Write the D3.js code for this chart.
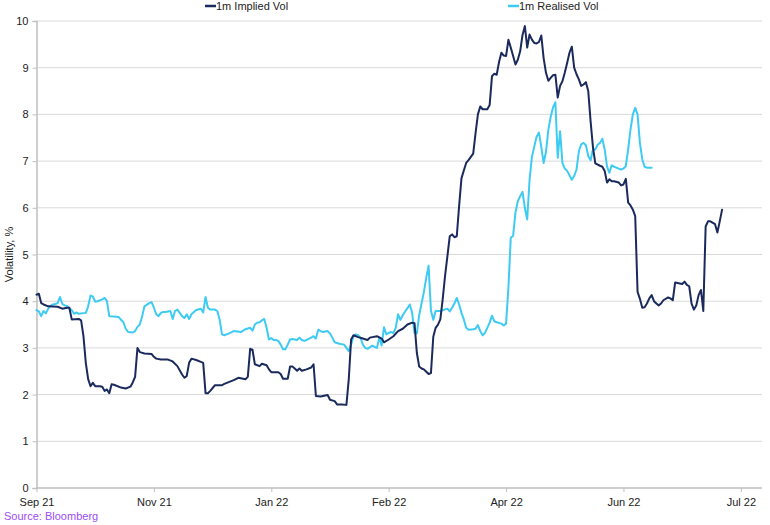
<!DOCTYPE html>
<html>
<head>
<meta charset="utf-8">
<script src="https://cdn.jsdelivr.net/npm/d3@7"></script>
<style>
  body { margin: 0; background: #fff; }
  text { font-family: "Liberation Sans", Arial, sans-serif; }
</style>
</head>
<body>
<div id="chart"></div>
<script>
// days are counted from the first date on the axis (Sep 28 2021)
const startDate = new Date(2021, 8, 28);
const tickStepDays = 50;
const tickCount = 7;
const yTicks = [0, 1, 2, 3, 4, 5, 6, 7, 8, 9, 10];

const impliedDay = [0, 1, 2, 3, 5, 9, 11, 13, 14, 15, 18, 19, 20, 21, 22, 23, 24, 25, 27, 28, 29, 30, 31, 32, 33, 36, 38, 40, 41, 42, 43, 44, 46, 49, 50, 51, 53, 56, 58, 60, 62, 63, 64, 65, 66, 68, 70, 71, 72, 73, 74, 76, 79, 80, 84, 86, 89, 90, 91, 92, 93, 95, 96, 98, 99, 100, 103, 104, 105, 107, 108, 109, 110, 111, 112, 113, 115, 117, 118, 119, 121, 124, 125, 127, 128, 130, 132, 133, 134, 135, 137, 139, 141, 142, 145, 147, 148, 150, 152, 154, 156, 158, 160, 161, 162, 163, 164, 165, 166, 167, 168, 169, 170, 171, 172, 173, 174, 175, 176, 177, 178, 179, 180, 181, 182, 183, 184, 185, 186, 187, 188, 189, 190, 192, 193, 194, 195, 196, 197, 198, 199, 200, 201, 202, 203, 204, 205, 206, 207, 208, 209, 210, 211, 212, 213, 214, 215, 216, 217, 218, 219, 220, 221, 222, 223, 224, 225, 226, 227, 228, 229, 230, 231, 232, 233, 234, 235, 236, 237, 238, 240, 241, 242, 243, 244, 245, 246, 248, 249, 250, 251, 252, 253, 254, 255, 256, 257, 258, 259, 260, 261, 262, 263, 264, 265, 266, 267, 269, 270, 271, 272, 275, 276, 277, 278, 279, 280, 281, 282, 283, 284, 285, 286, 287, 289, 290, 291, 292];
const impliedVol = [4.14, 4.16, 3.96, 3.93, 3.89, 3.88, 3.84, 3.86, 3.86, 3.61, 3.62, 3.59, 3.25, 2.68, 2.33, 2.18, 2.25, 2.18, 2.18, 2.17, 2.08, 2.11, 2.03, 2.22, 2.21, 2.15, 2.13, 2.17, 2.26, 2.38, 3.0, 2.91, 2.88, 2.87, 2.81, 2.77, 2.75, 2.75, 2.71, 2.61, 2.43, 2.36, 2.40, 2.68, 2.77, 2.74, 2.70, 2.68, 2.03, 2.03, 2.08, 2.2, 2.2, 2.23, 2.31, 2.36, 2.33, 2.38, 2.98, 2.96, 2.65, 2.61, 2.66, 2.63, 2.54, 2.48, 2.48, 2.44, 2.34, 2.34, 2.6, 2.6, 2.56, 2.51, 2.56, 2.51, 2.54, 2.58, 2.65, 1.97, 1.96, 1.99, 1.89, 1.86, 1.79, 1.79, 1.78, 2.33, 3.18, 3.27, 3.23, 3.2, 3.17, 3.22, 3.25, 3.2, 3.12, 3.18, 3.25, 3.36, 3.41, 3.5, 3.54, 3.53, 2.89, 2.6, 2.56, 2.54, 2.49, 2.44, 2.46, 3.24, 3.43, 3.5, 3.61, 4.04, 4.54, 4.96, 5.39, 5.43, 5.37, 5.39, 6.04, 6.63, 6.8, 6.96, 7.02, 7.09, 7.16, 7.6, 8.0, 8.17, 8.11, 8.11, 8.2, 8.82, 8.87, 8.85, 9.12, 9.32, 9.26, 9.25, 9.6, 9.43, 9.25, 9.07, 9.17, 9.35, 9.7, 9.89, 9.43, 9.71, 9.6, 9.53, 9.52, 9.55, 9.69, 9.2, 8.89, 8.72, 8.78, 8.84, 8.85, 8.36, 8.61, 8.71, 8.89, 9.1, 9.32, 9.45, 9.0, 8.86, 8.75, 8.61, 8.64, 8.69, 8.5, 7.85, 7.3, 6.95, 6.9, 6.88, 6.79, 6.54, 6.61, 6.57, 6.57, 6.54, 6.48, 6.5, 6.62, 6.11, 6.05, 5.96, 5.82, 4.2, 4.05, 3.86, 3.87, 3.95, 4.06, 4.13, 4.0, 3.95, 3.91, 3.95, 4.02, 4.08, 4.06, 4.02, 4.4, 4.37, 4.42, 4.35, 4.32, 3.95, 3.82, 3.91, 4.13, 4.24, 3.79, 5.6, 5.71, 5.71, 5.65, 5.47, 5.71, 5.96];

const realisedDay = [0, 1, 2, 3, 4, 5, 6, 7, 8, 9, 10, 11, 12, 13, 14, 15, 16, 17, 18, 21, 22, 23, 24, 25, 26, 28, 29, 30, 31, 33, 35, 37, 38, 39, 41, 42, 43, 44, 45, 46, 48, 49, 50, 51, 52, 53, 54, 55, 57, 58, 59, 60, 61, 62, 63, 64, 65, 66, 68, 70, 71, 72, 73, 74, 76, 77, 78, 79, 80, 82, 84, 87, 89, 91, 92, 93, 94, 95, 96, 97, 98, 99, 100, 101, 102, 103, 104, 105, 106, 107, 108, 109, 111, 112, 113, 114, 115, 117, 118, 119, 120, 121, 122, 124, 125, 126, 127, 129, 131, 132, 133, 134, 135, 136, 137, 138, 139, 140, 141, 143, 144, 145, 146, 147, 148, 149, 150, 151, 152, 153, 154, 155, 156, 157, 158, 159, 160, 161, 162, 163, 164, 165, 166, 167, 168, 169, 170, 172, 175, 176, 177, 178, 179, 180, 181, 182, 183, 184, 186, 187, 188, 189, 190, 191, 192, 193, 194, 195, 196, 198, 199, 200, 201, 202, 203, 204, 205, 206, 207, 208, 209, 210, 211, 212, 213, 214, 215, 216, 217, 218, 219, 220, 221, 222, 223, 224, 225, 226, 228, 229, 230, 231, 232, 233, 234, 235, 236, 237, 238, 239, 240, 241, 242, 243, 244, 245, 246, 248, 249, 250, 251, 252, 253, 254, 255, 256, 257, 258, 259, 260, 262];
const realisedVol = [3.81, 3.78, 3.68, 3.79, 3.74, 3.84, 3.9, 3.93, 3.94, 3.96, 4.09, 3.94, 3.91, 3.9, 3.84, 3.81, 3.73, 3.76, 3.73, 3.75, 3.89, 4.12, 4.1, 3.99, 4.0, 4.04, 4.07, 4.0, 3.68, 3.67, 3.66, 3.55, 3.41, 3.34, 3.33, 3.36, 3.45, 3.5, 3.68, 3.89, 3.96, 3.98, 3.86, 3.72, 3.68, 3.75, 3.77, 3.77, 3.79, 3.62, 3.79, 3.82, 3.75, 3.68, 3.64, 3.72, 3.62, 3.72, 3.81, 3.84, 3.76, 4.09, 3.86, 3.82, 3.82, 3.79, 3.61, 3.29, 3.27, 3.31, 3.36, 3.34, 3.4, 3.43, 3.37, 3.5, 3.54, 3.55, 3.59, 3.62, 3.43, 3.18, 3.21, 3.17, 3.17, 3.15, 3.07, 2.97, 2.97, 3.07, 3.18, 3.19, 3.17, 3.22, 3.17, 3.15, 3.17, 3.22, 3.25, 3.2, 3.39, 3.36, 3.34, 3.36, 3.31, 3.22, 3.12, 3.09, 3.07, 3.0, 2.93, 3.07, 3.25, 3.29, 3.27, 3.22, 3.07, 3.0, 2.98, 3.05, 3.02, 3.0, 3.22, 3.05, 3.44, 3.29, 3.32, 3.34, 3.32, 3.43, 3.72, 3.6, 3.7, 3.78, 3.85, 3.93, 3.75, 3.32, 3.31, 3.7, 3.95, 4.2, 4.5, 4.76, 3.8, 3.6, 3.79, 3.79, 3.84, 3.78, 3.86, 3.95, 4.07, 3.93, 3.75, 3.61, 3.43, 3.39, 3.4, 3.41, 3.49, 3.36, 3.27, 3.32, 3.43, 3.54, 3.69, 3.57, 3.55, 3.52, 3.48, 3.52, 4.3, 5.36, 5.4, 5.9, 6.14, 6.25, 6.34, 6.0, 5.75, 6.6, 7.09, 7.31, 7.52, 7.61, 7.3, 6.96, 7.2, 7.67, 7.95, 8.15, 8.26, 7.07, 7.64, 6.96, 6.84, 6.79, 6.6, 6.68, 6.82, 7.21, 7.36, 7.39, 7.34, 7.11, 7.02, 7.25, 7.25, 7.35, 7.39, 7.48, 7.25, 6.88, 6.75, 6.91, 6.88, 6.84, 6.82, 6.84, 6.89, 7.25, 7.68, 8.0, 8.14, 8.0, 7.39, 7.04, 6.88, 6.86, 6.86];

const seriesNames = ['1m Implied Vol', '1m Realised Vol'];
const seriesColors = ['#1b2a5c', '#3ecbf3'];

const W = 770, H = 525;
const margin = {top: 21, right: 8, bottom: 37, left: 36.5};

const dayToDate = (d) => d3.timeDay.offset(startDate, d);

const svg = d3.select('#chart')
  .append('svg')
  .attr('width', W)
  .attr('height', H);

const x = d3.scaleTime()
  .domain([startDate, dayToDate(309)])
  .range([margin.left, W - margin.right]);

const y = d3.scaleLinear()
  .domain([0, 10])
  .range([H - margin.bottom, margin.top]);

// gridlines
svg.append('g')
  .selectAll('line')
  .data(yTicks.filter((t) => t > 0))
  .join('line')
  .attr('x1', margin.left)
  .attr('x2', W - margin.right)
  .attr('y1', (d) => y(d))
  .attr('y2', (d) => y(d))
  .attr('stroke', '#d9d9d9')
  .attr('stroke-width', 1);

// y axis
const yAxis = svg.append('g')
  .attr('transform', `translate(${margin.left},0)`)
  .call(d3.axisLeft(y).tickValues(yTicks).tickSize(4).tickPadding(4).tickFormat(d3.format('d')));
yAxis.select('.domain').attr('stroke', '#bfbfbf').attr('stroke-width', 1.5);
yAxis.selectAll('.tick line').attr('stroke', '#bfbfbf');
yAxis.selectAll('.tick text')
  .attr('font-size', 11)
  .attr('fill', '#222');

// x axis
const xTicks = d3.range(tickCount).map((k) => dayToDate(k * tickStepDays));
const xAxis = svg.append('g')
  .attr('transform', `translate(0,${y(0)})`)
  .call(d3.axisBottom(x).tickValues(xTicks).tickSize(4).tickPadding(6).tickFormat(d3.timeFormat('%b %y')));
xAxis.select('.domain').attr('stroke', '#bfbfbf').attr('stroke-width', 1.5).attr('d', `M${margin.left},0H${W - margin.right}`);
xAxis.selectAll('.tick line').attr('stroke', '#bfbfbf');
xAxis.selectAll('.tick text')
  .attr('font-size', 11)
  .attr('fill', '#222');

// lines
const line = d3.line()
  .x((d) => x(dayToDate(d[0])))
  .y((d) => y(d[1]));

const series = [
  d3.zip(impliedDay, impliedVol),
  d3.zip(realisedDay, realisedVol)
];

// realised drawn first so implied sits on top
[1, 0].forEach((i) => {
  svg.append('path')
    .datum(series[i])
    .attr('fill', 'none')
    .attr('stroke', seriesColors[i])
    .attr('stroke-width', 2)
    .attr('stroke-linejoin', 'round')
    .attr('stroke-linecap', 'round')
    .attr('d', line);
});

// y label
svg.append('text')
  .attr('transform', `translate(13,${(y(0) + y(10)) / 2}) rotate(-90)`)
  .attr('text-anchor', 'middle')
  .attr('font-size', 11)
  .attr('fill', '#222')
  .text('Volatility, %');

// legend
const legendX = [205, 508];
const legend = svg.append('g')
  .selectAll('g')
  .data(seriesNames)
  .join('g')
  .attr('transform', (d, i) => `translate(${legendX[i]},6)`);
legend.append('line')
  .attr('x1', 0).attr('x2', 11)
  .attr('stroke', (d, i) => seriesColors[i])
  .attr('stroke-width', 2.5);
legend.append('text')
  .attr('x', 11)
  .attr('y', 4)
  .attr('font-size', 11)
  .attr('fill', '#222')
  .text((d) => d);

// source
svg.append('text')
  .attr('x', 4)
  .attr('y', 520)
  .attr('font-size', 11)
  .attr('fill', '#9d4df5')
  .text('Source: Bloomberg');
</script>
</body>
</html>
